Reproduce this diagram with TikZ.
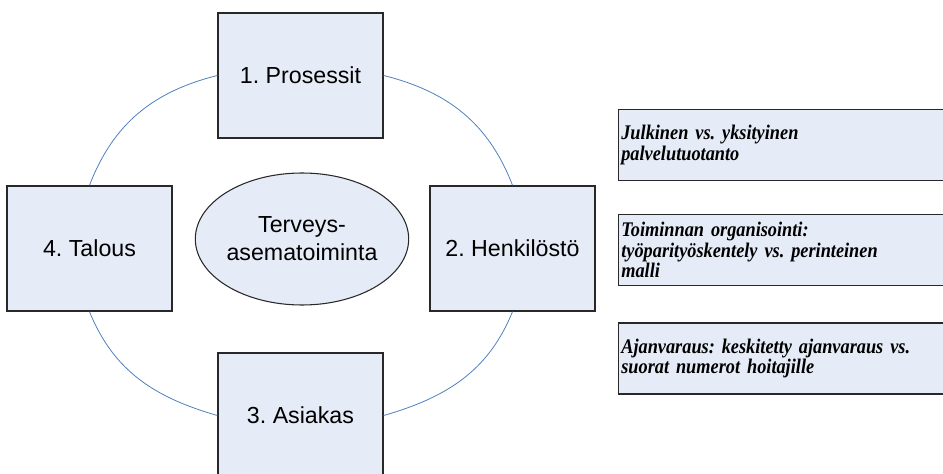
\documentclass[tikz,border=0pt]{standalone}
\usepackage{fontspec}
\setmainfont{Liberation Sans}
\newfontfamily\notefont[FakeStretch=0.88]{Liberation Serif}
\newcommand\notetext{\notefont\bfseries\itshape\fontsize{15.6}{15.5}\selectfont\setlength{\spaceskip}{0.2em}}
\usetikzlibrary{shapes.geometric}
\definecolor{boxfill}{RGB}{230,236,247}
\definecolor{linkblue}{RGB}{79,129,189}
\definecolor{boxline}{RGB}{40,40,40}
\frenchspacing

\begin{document}
\begin{tikzpicture}[x=0.75pt,y=0.75pt,
	area/.style={draw=boxline,line width=1pt,fill=boxfill,minimum width=123.75pt,minimum height=93.75pt,inner sep=0pt,font=\fontsize{17.4}{21}\selectfont},
	core/.style={ellipse,draw=boxline,line width=0.8pt,fill=boxfill,minimum width=147pt,minimum height=99pt,inner sep=0pt,align=center,font=\fontsize{17.4}{21}\selectfont},
	note/.style={anchor=west,draw=boxline,line width=1pt,fill=boxfill,minimum height=53.25pt,inner xsep=2pt,inner ysep=0pt,text width=300pt,align=left,font=\notetext},
	link/.style={linkblue,line width=0.6pt}]
	\useasboundingbox (0,0) rectangle (943,-474);
	\node[area] (prosessit) at (300.5,-75.5) {1. Prosessit};
	\node[area] (henkilosto) at (512.5,-248.5) {2. Henkilöstö};
	\node[area] (asiakas) at (300.5,-415.5) {3. Asiakas};
	\node[area] (talous) at (89.5,-248.5) {4. Talous};
	\node[core] (terveys) at (302,-239) {Terveys-\\asematoiminta};
	\draw[link] (prosessit.west) to[out=194,in=69] (talous.north);
	\draw[link] (prosessit.east) to[out=-14,in=111] (henkilosto.north);
	\draw[link] (talous.south) to[out=-68,in=164] (asiakas.west);
	\draw[link] (henkilosto.south) to[out=248,in=16] (asiakas.east);
	\node[note] (julkinen) at (618,-145) {Julkinen vs. yksityinen\\palvelutuotanto};
	\node[note] (organisointi) at (618,-250) {Toiminnan organisointi:\\työparityöskentely vs. perinteinen\\malli};
	\node[note] (ajanvaraus) at (618,-358.5) {Ajanvaraus: keskitetty ajanvaraus vs.\\suorat numerot hoitajille};
\end{tikzpicture}
\end{document}
